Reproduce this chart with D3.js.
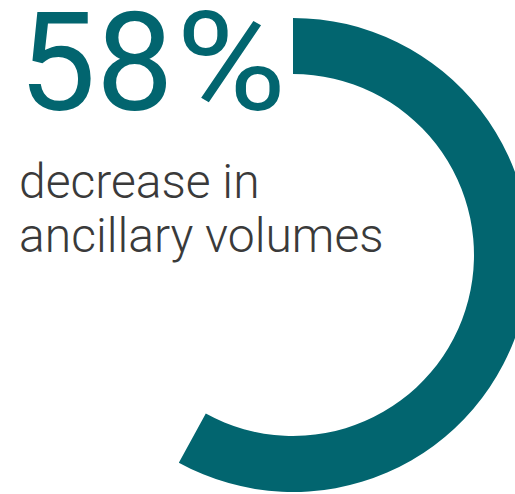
<!DOCTYPE html>
<html>
<head>
<meta charset="utf-8">
<script src="https://cdn.jsdelivr.net/npm/d3@7"></script>
<style>
  html, body { margin: 0; padding: 0; background: #fff; overflow: hidden; }
</style>
</head>
<body>
<svg id="chart" width="515" height="494"></svg>
<script>
// Share of ancillary volume decrease
const values = [58];
const valueSuffix = ["%"];
const captionLines = ["decrease in", "ancillary volumes"];

const width = 515, height = 494;
const teal = "#02656f";
const svg = d3.select("#chart");

// Donut geometry
const cx = 293, cy = 255, outerR = 237, innerR = 181;

const angle = d3.scaleLinear().domain([0, 100]).range([0, 2 * Math.PI]);
const arc = d3.arc().innerRadius(innerR).outerRadius(outerR).startAngle(0);

svg.append("g")
  .attr("transform", `translate(${cx},${cy})`)
  .selectAll("path")
  .data(values)
  .join("path")
  .attr("d", d => arc({ endAngle: angle(d) }))
  .attr("fill", teal);

// Big percentage figure: number, then a slightly wider percent sign
const big = svg.append("g")
  .attr("font-family", "Roboto")
  .attr("font-weight", 400)
  .attr("font-size", 138)
  .attr("fill", teal);

big.append("text")
  .attr("x", 18.5)
  .attr("y", 110)
  .text(values[0]);

big.append("text")
  .attr("transform", "translate(176,110) scale(1.09,1)")
  .text(valueSuffix[0]);

// Caption
svg.append("g")
  .selectAll("text")
  .data(captionLines)
  .join("text")
  .attr("x", 19)
  .attr("y", (d, i) => 198 + i * 54)
  .attr("font-family", "Roboto")
  .attr("font-weight", 300)
  .attr("font-size", 48)
  .attr("fill", "#3a3a3a")
  .text(d => d);
</script>
</body>
</html>
